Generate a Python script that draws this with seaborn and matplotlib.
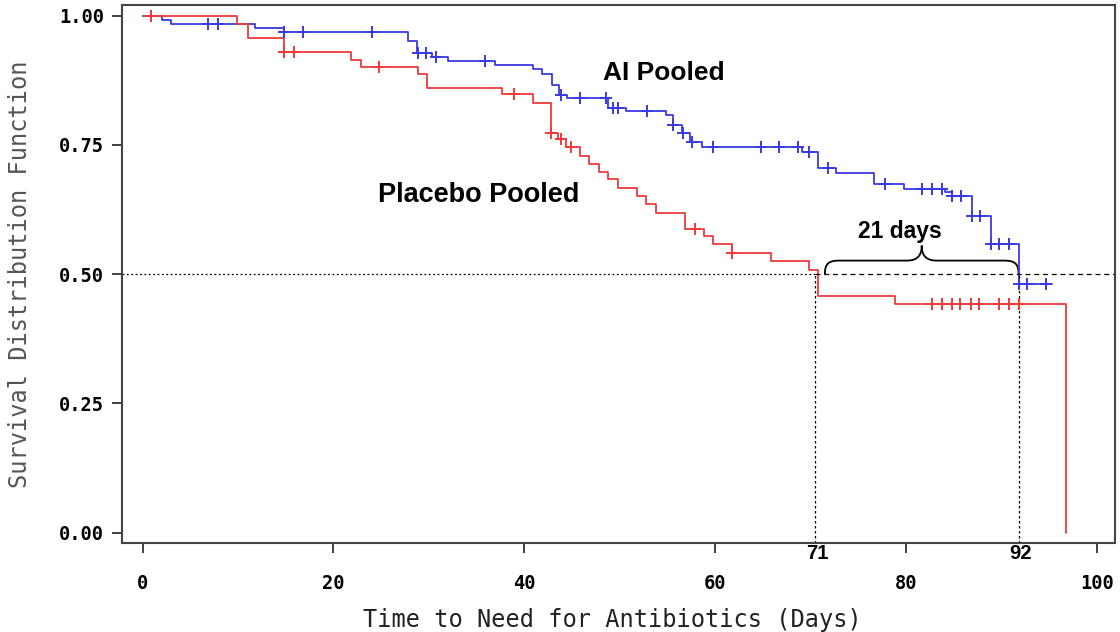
import numpy as np
import matplotlib
matplotlib.use("Agg")
import matplotlib.pyplot as plt
import seaborn as sns
from matplotlib.path import Path
from matplotlib.patches import PathPatch
from matplotlib.transforms import blended_transform_factory

# Kaplan-Meier steps (time in days, survival after the step)
ai_time = [0, 2.0, 3.0, 11.8, 14.8, 27.8, 28.8, 30.3, 32.0, 36.9, 40.9, 41.9,
           42.9, 43.6, 44.5, 48.8, 50.7, 54.8, 55.6, 56.5, 57.4, 58.6, 69.1,
           70.8, 72.7, 76.7, 79.8, 84.1, 84.8, 86.9, 88.9, 91.8, 95.3]
ai_surv = [1.000, 0.991, 0.983, 0.975, 0.968, 0.950, 0.928, 0.919, 0.912,
           0.904, 0.896, 0.887, 0.866, 0.846, 0.840, 0.822, 0.815, 0.808,
           0.788, 0.772, 0.756, 0.745, 0.736, 0.705, 0.696, 0.675, 0.664,
           0.659, 0.650, 0.612, 0.559, 0.481, 0.481]
ai_censor = [6.9, 7.9, 14.8, 16.8, 24.0, 28.9, 29.7, 30.7, 35.9, 43.8, 45.8,
             48.6, 49.3, 49.8, 52.9, 55.6, 56.6, 57.6, 59.8, 64.8, 66.7, 68.7,
             69.8, 71.8, 77.8, 81.7, 82.7, 83.8, 84.8, 85.8, 86.9, 87.8, 88.9,
             89.8, 90.8, 91.8, 92.7, 94.7]

pl_time = [0, 9.9, 11.0, 14.8, 21.8, 22.9, 28.9, 29.8, 37.7, 40.9, 42.8, 43.5,
           44.4, 45.8, 46.8, 47.8, 48.8, 49.8, 51.8, 52.8, 53.8, 56.8, 58.8,
           59.8, 61.8, 65.9, 69.8, 70.8, 78.8, 96.8]
pl_surv = [1.000, 0.983, 0.956, 0.929, 0.914, 0.901, 0.887, 0.859, 0.848,
           0.830, 0.772, 0.761, 0.745, 0.728, 0.713, 0.698, 0.683, 0.666,
           0.651, 0.635, 0.619, 0.588, 0.573, 0.558, 0.540, 0.526, 0.508,
           0.458, 0.443, 0.0]
pl_censor = [0.9, 14.8, 15.9, 24.8, 38.9, 42.8, 43.8, 44.9, 57.9, 61.8, 82.7,
             83.8, 84.8, 85.7, 86.8, 87.7, 89.7, 90.8, 91.8]

median_x = [70.5, 91.8]
median_labels = ["71", "92"]

x_ticks = [0, 20, 40, 60, 80, 100]
y_ticks = [0.0, 0.25, 0.50, 0.75, 1.00]

blue = "#3a3ae0"
red = "#ee3a3a"


def step_value(times, surv, t):
    idx = np.searchsorted(times, t, side="right") - 1
    return np.asarray(surv)[idx]


sns.set_style("ticks")
plt.rcParams["font.family"] = ["DejaVu Sans Mono"]

fig = plt.figure(figsize=(11.2, 6.32), dpi=100)
ax = fig.add_axes([0.109, 0.1408, 0.8865, 0.8512])

# survival curves
sns.lineplot(x=ai_time, y=ai_surv, drawstyle="steps-post", color=blue,
             linewidth=1.3, estimator=None, sort=False, ax=ax)
sns.lineplot(x=pl_time, y=pl_surv, drawstyle="steps-post", color=red,
             linewidth=1.3, estimator=None, sort=False, ax=ax)

# censored observations
sns.scatterplot(x=ai_censor, y=step_value(ai_time, ai_surv, ai_censor),
                marker="+", s=80, linewidth=1.4, color=blue, ax=ax, zorder=3)
sns.scatterplot(x=pl_censor, y=step_value(pl_time, pl_surv, pl_censor),
                marker="+", s=80, linewidth=1.4, color=red, ax=ax, zorder=3)

ax.set_xlim(-2.15, 101.9)
ax.set_ylim(-0.0203, 1.0203)

# median reference lines
ax.plot([ax.get_xlim()[0], median_x[0]], [0.5, 0.5], color="black",
        linewidth=0.9, linestyle=(0, (1.5, 2)))
ax.plot([median_x[0], ax.get_xlim()[1]], [0.5, 0.5], color="black",
        linewidth=0.9, linestyle=(0, (4, 3)))
for mx in median_x:
    ax.plot([mx, mx], [ax.get_ylim()[0], 0.5], color="black",
            linewidth=0.9, linestyle=(0, (2, 2)))

# brace between the two medians
x0, x1 = median_x[0] + 1.0, median_x[1]
xm = (x0 + x1) / 2
yb, yh, yt = 0.5, 0.526, 0.555
verts = [(x0, yb), (x0, yb + 0.02), (x0 + 0.4, yh), (x0 + 1.5, yh),
         (xm - 1.6, yh),
         (xm - 0.6, yh), (xm, yh + 0.007), (xm, yt),
         (xm, yh + 0.007), (xm + 0.6, yh), (xm + 1.6, yh),
         (x1 - 1.5, yh),
         (x1 - 0.4, yh), (x1, yb + 0.02), (x1, yb)]
codes = ([Path.MOVETO] + [Path.CURVE4] * 3 + [Path.LINETO] + [Path.CURVE4] * 6
         + [Path.LINETO] + [Path.CURVE4] * 3)
ax.add_patch(PathPatch(Path(verts, codes), facecolor="none",
                       edgecolor="black", linewidth=1.3))

# annotations
ann = dict(family=["Liberation Sans", "DejaVu Sans"], fontweight="bold",
           color="black")
ax.text(48.2, 0.889, "AI Pooled", fontsize=19, va="center", ha="left", **ann)
ax.text(24.7, 0.653, "Placebo Pooled", fontsize=19.5, va="center", ha="left", **ann)
ax.text(79.4, 0.582, "21 days", fontsize=16.5, va="center", ha="center", **ann)

trans = blended_transform_factory(ax.transData, ax.transAxes)
for mx, lab in zip(median_x, median_labels):
    ax.text(mx + 0.2, -0.02, lab, transform=trans, fontsize=14.5, va="center",
            ha="center", **ann)

# axes styling
ax.set_xticks(x_ticks)
ax.set_yticks(y_ticks)
ax.set_xticklabels([str(t) for t in x_ticks])
ax.set_yticklabels([f"{t:.2f}" for t in y_ticks])
ax.tick_params(axis="x", direction="out", length=7, width=1.3, pad=15,
               labelsize=13.5, colors="#333333")
ax.tick_params(axis="y", direction="out", length=7, width=1.3, pad=6,
               labelsize=13.5, colors="#333333")
for lab in ax.get_xticklabels() + ax.get_yticklabels():
    lab.set_fontweight("bold")
    lab.set_color("black")
for sp in ax.spines.values():
    sp.set_visible(True)
    sp.set_color("#444444")
    sp.set_linewidth(1.5)

ax.set_xlabel("Time to Need for Antibiotics (Days)", fontsize=17,
              color="#222222")
ax.set_ylabel("Survival Distribution Function", fontsize=17, color="#555555")
ax.xaxis.set_label_coords(0.4935, -0.143)
ax.xaxis.label.set_verticalalignment("center")
ax.yaxis.set_label_coords(-0.1027, 0.5)
ax.yaxis.label.set_verticalalignment("center")

fig.savefig("out.png", dpi=100)
